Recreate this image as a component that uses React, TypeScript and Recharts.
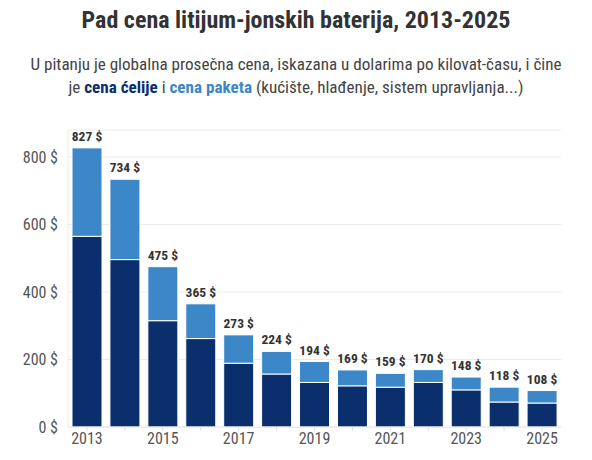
import { Bar, BarChart, CartesianGrid, LabelList, XAxis, YAxis } from "recharts";

const years = [2013, 2014, 2015, 2016, 2017, 2018, 2019, 2020, 2021, 2022, 2023, 2024, 2025];
const totals = [827, 734, 475, 365, 273, 224, 194, 169, 159, 170, 148, 118, 108];
const cellPrices = [565, 496, 315, 262, 189, 157, 132, 122, 118, 132, 110, 74, 71];
const yTicks = [0, 200, 400, 600, 800];

const DARK = "#0b2e6c";
const LIGHT = "#3c87c8";
const FONT = "'Roboto Condensed', 'Liberation Sans Narrow', 'DejaVu Sans Condensed', Roboto, sans-serif";

const data = years.map((year, i) => ({
  year,
  cell: cellPrices[i],
  pack: totals[i] - cellPrices[i],
  total: totals[i],
}));

const TotalLabel = (props: any) => {
  const { x, width, y, index } = props;
  return (
    <text
      x={x + width / 2}
      y={y - 7}
      textAnchor="middle"
      fontFamily={FONT}
      fontWeight={700}
      fontSize={13.5}
      fill="#333"
    >
      {totals[index]} $
    </text>
  );
};

export default function App() {
  return (
    <div
      style={{
        position: "absolute",
        left: 0,
        top: 0,
        width: 592,
        height: 460,
        background: "#fff",
        fontFamily: FONT,
      }}
    >
      <div
        style={{
          position: "absolute",
          top: 6,
          width: 592,
          textAlign: "center",
          fontSize: 24,
          fontWeight: 700,
          color: "#333",
        }}
      >
        Pad cena litijum-jonskih baterija, 2013-2025
      </div>
      <div
        style={{
          position: "absolute",
          top: 53,
          width: 592,
          textAlign: "center",
          fontSize: 17.1,
          lineHeight: "23px",
          color: "#444",
        }}
      >
        U pitanju je globalna prosečna cena, iskazana u dolarima po kilovat-času, i čine
        <br />
        je <b style={{ color: DARK }}>cena ćelije</b> i{" "}
        <b style={{ color: LIGHT }}>cena paketa</b> (kućište, hlađenje, sistem upravljanja...)
      </div>
      <div style={{ position: "absolute", left: 0, top: 0 }}>
        <BarChart
          width={592}
          height={460}
          data={data}
          margin={{ top: 130, right: 31, bottom: 3, left: 0 }}
          barCategoryGap={4}
        >
          <CartesianGrid vertical={false} stroke="#ebebeb" />
          <XAxis
            dataKey="year"
            interval={0}
            tickFormatter={(v: number) => (v % 2 === 1 ? String(v) : "")}
            tick={{ fill: "#555", fontSize: 16, fontFamily: FONT }}
            tickLine={{ stroke: "#ddd" }}
            tickSize={4}
            axisLine={{ stroke: "#e6e6e6" }}
            height={30}
          />
          <YAxis
            domain={[0, 880]}
            ticks={yTicks}
            tickFormatter={(v: number) => `${v} $`}
            tick={{ fill: "#555", fontSize: 16, fontFamily: FONT }}
            tickLine={false}
            axisLine={{ stroke: "#ebebeb" }}
            width={68}
            tickMargin={4}
          />
          <Bar dataKey="cell" stackId="a" fill={DARK} stroke="#fff" strokeWidth={1} isAnimationActive={false} />
          <Bar dataKey="pack" stackId="a" fill={LIGHT} stroke="#fff" strokeWidth={1} isAnimationActive={false}>
            <LabelList dataKey="total" content={TotalLabel} />
          </Bar>
        </BarChart>
      </div>
    </div>
  );
}
